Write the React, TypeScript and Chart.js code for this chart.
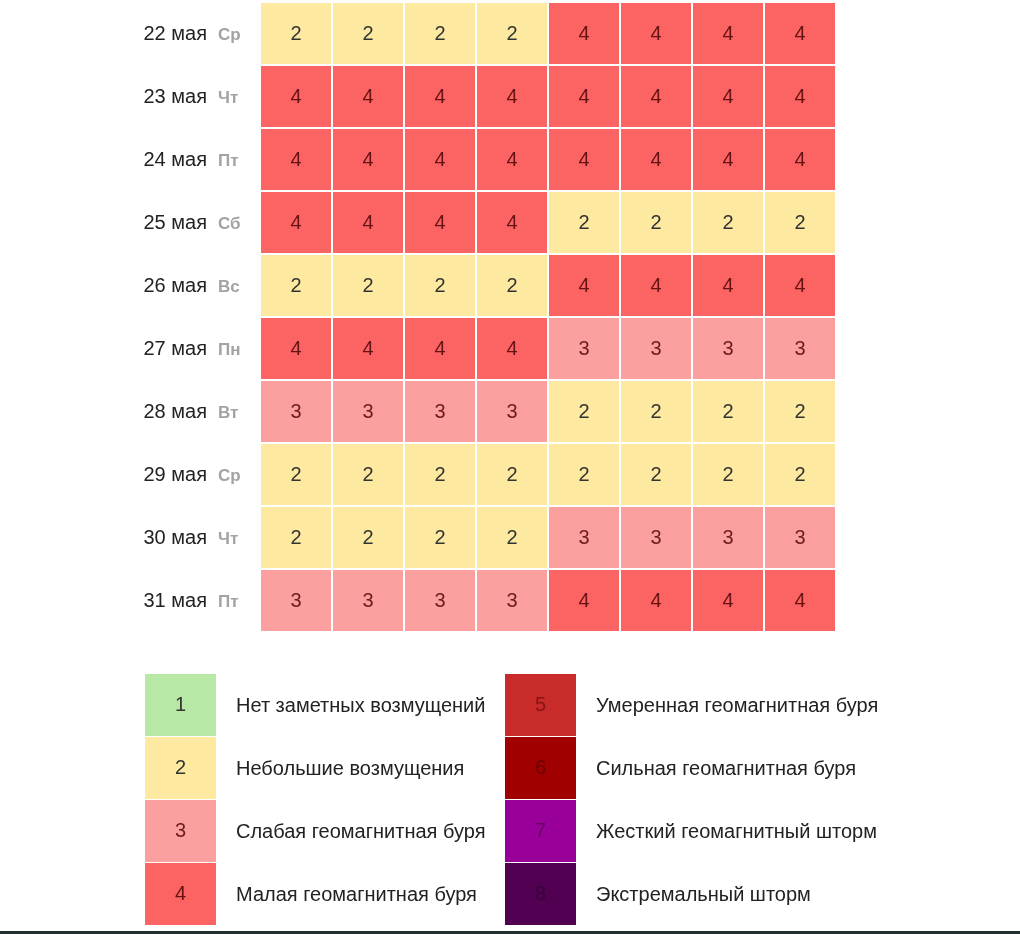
import React, { useEffect, useRef } from "react";
import { Chart, registerables } from "chart.js";

Chart.register(...registerables);

const dates = ["22 мая", "23 мая", "24 мая", "25 мая", "26 мая", "27 мая", "28 мая", "29 мая", "30 мая", "31 мая"];
const weekdays = ["Ср", "Чт", "Пт", "Сб", "Вс", "Пн", "Вт", "Ср", "Чт", "Пт"];
const intervals = ["00–03", "03–06", "06–09", "09–12", "12–15", "15–18", "18–21", "21–24"];

const may22 = [2, 2, 2, 2, 4, 4, 4, 4];
const may23 = [4, 4, 4, 4, 4, 4, 4, 4];
const may24 = [4, 4, 4, 4, 4, 4, 4, 4];
const may25 = [4, 4, 4, 4, 2, 2, 2, 2];
const may26 = [2, 2, 2, 2, 4, 4, 4, 4];
const may27 = [4, 4, 4, 4, 3, 3, 3, 3];
const may28 = [3, 3, 3, 3, 2, 2, 2, 2];
const may29 = [2, 2, 2, 2, 2, 2, 2, 2];
const may30 = [2, 2, 2, 2, 3, 3, 3, 3];
const may31 = [3, 3, 3, 3, 4, 4, 4, 4];
const grid = [may22, may23, may24, may25, may26, may27, may28, may29, may30, may31];

const levels = [1, 2, 3, 4, 5, 6, 7, 8];
const levelNames = [
  "Нет заметных возмущений",
  "Небольшие возмущения",
  "Слабая геомагнитная буря",
  "Малая геомагнитная буря",
  "Умеренная геомагнитная буря",
  "Сильная геомагнитная буря",
  "Жесткий геомагнитный шторм",
  "Экстремальный шторм",
];
const levelColors = ["#b7e8a6", "#fde9a0", "#fb9f9f", "#fc6464", "#c92a2a", "#a10000", "#990099", "#510052"];
const levelTextColors = ["#333333", "#333333", "#6a1c1c", "#661212", "#8a1414", "#6a0000", "#660066", "#380038"];

const FONT = "'Liberation Sans', Arial, sans-serif";

const overlayPlugin = {
  id: "overlay",
  afterDatasetsDraw(chart: any) {
    const ctx = chart.ctx as CanvasRenderingContext2D;
    const xs = chart.scales.x;
    const ys = chart.scales.y;
    ctx.save();
    ctx.textAlign = "center";
    ctx.textBaseline = "middle";
    ctx.font = `20px ${FONT}`;
    grid.forEach((row, i) => {
      row.forEach((lv, j) => {
        ctx.fillStyle = levelTextColors[lv - 1];
        ctx.fillText(String(lv), xs.getPixelForValue(j + 0.5), ys.getPixelForValue(i) + 1);
      });
    });
    // row labels
    dates.forEach((d, i) => {
      const y = ys.getPixelForValue(i) + 1;
      ctx.textAlign = "right";
      ctx.fillStyle = "#222222";
      ctx.font = `20px ${FONT}`;
      ctx.fillText(d, 207, y);
      ctx.textAlign = "left";
      ctx.fillStyle = "#a3a3a3";
      ctx.font = `bold 17px ${FONT}`;
      ctx.fillText(weekdays[i], 218, y + 1);
    });
    // legend
    const boxW = 71;
    const boxH = 63;
    const top = 674;
    levels.forEach((lv, k) => {
      const col = Math.floor(k / 4);
      const r = k % 4;
      const bx = col === 0 ? 145 : 505;
      const by = top + r * boxH;
      ctx.fillStyle = levelColors[k];
      ctx.fillRect(bx, by, boxW, boxH - 1);
      ctx.fillStyle = levelTextColors[k];
      ctx.font = `20px ${FONT}`;
      ctx.textAlign = "center";
      ctx.fillText(String(lv), bx + boxW / 2, by + boxH / 2);
      ctx.fillStyle = "#222222";
      ctx.textAlign = "left";
      ctx.font = `20px ${FONT}`;
      ctx.fillText(levelNames[k], bx + 91, by + boxH / 2 + 1);
    });
    ctx.fillStyle = "#243030";
    ctx.fillRect(0, 931, 1020, 3);
    ctx.restore();
  },
};

export default function App() {
  const ref = useRef<HTMLCanvasElement | null>(null);
  useEffect(() => {
    if (!ref.current) return;
    const datasets = intervals.map((name, j) => ({
      label: name,
      data: grid.map(() => 1),
      backgroundColor: grid.map((row) => levelColors[row[j] - 1]),
      borderColor: "#ffffff",
      borderWidth: 1,
      borderSkipped: false as const,
      inflateAmount: 0,
      barPercentage: 1,
      categoryPercentage: 1,
    }));
    const chart = new Chart(ref.current, {
      type: "bar",
      data: { labels: dates, datasets },
      options: {
        indexAxis: "y",
        animation: false,
        responsive: false,
        maintainAspectRatio: false,
        layout: { padding: { left: 260, right: 184, top: 2, bottom: 302 } },
        plugins: { legend: { display: false }, tooltip: { enabled: false } },
        scales: {
          x: { stacked: true, min: 0, max: 8, display: false },
          y: { stacked: true, display: false },
        },
      },
      plugins: [overlayPlugin],
    });
    return () => chart.destroy();
  }, []);
  return (
    <div style={{ position: "absolute", left: 0, top: 0, width: 1020, height: 934, background: "#fff" }}>
      <canvas ref={ref} width={1020} height={934} style={{ display: "block" }} />
    </div>
  );
}
